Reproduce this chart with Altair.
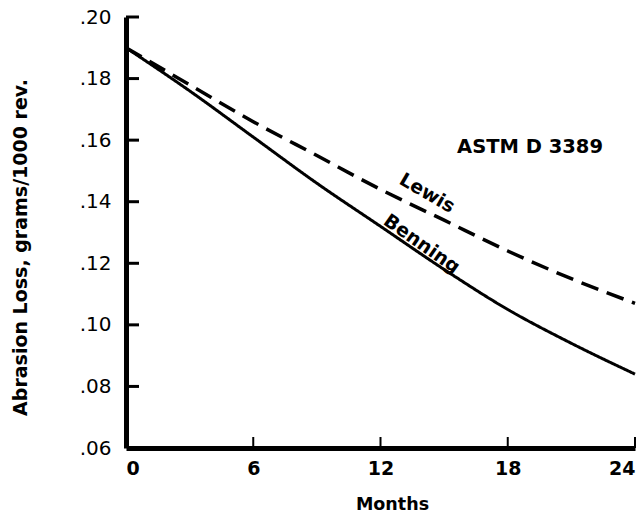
import altair as alt
import pandas as pd

months = [0, 3, 6, 9, 12, 15, 18, 21, 24]
benning = [0.190, 0.176, 0.161, 0.146, 0.132, 0.118, 0.105, 0.094, 0.084]
lewis = [0.190, 0.178, 0.166, 0.155, 0.144, 0.134, 0.124, 0.115, 0.107]

y_ticks = [0.08, 0.10, 0.12, 0.14, 0.16, 0.18, 0.20]
x_ticks = [6, 12, 18, 24]

labels = ["Lewis", "Benning", "ASTM D 3389"]
label_x = [14.2, 13.95, 19.05]
label_y = [0.1428, 0.1263, 0.1578]
label_angle = [30, 35, 0]
label_size = [19, 19, 19.5]

rows = []
for m, b, l in zip(months, benning, lewis):
    rows.append({"month": m, "value": b, "series": "Benning"})
    rows.append({"month": m, "value": l, "series": "Lewis"})
df = pd.DataFrame(rows)

xs = alt.Scale(domain=[0, 24], nice=False, zero=False)
ys = alt.Scale(domain=[0.06, 0.20], nice=False, zero=False)

FONT = "DejaVu Sans"
XT = "Months"
YT = "Abrasion Loss, grams/1000 rev."

lines = alt.Chart(df).mark_line(color="black", interpolate="monotone").encode(
    x=alt.X("month:Q", scale=xs, title=XT, axis=alt.Axis(
        values=[0, 6, 12, 18, 24], tickSize=0, labelPadding=11,
        labelFontSize=19, labelFont=FONT, labelFontWeight="bold", labelColor="black",
        titleFontSize=17.5, titleFont=FONT, titleFontWeight="bold", titleColor="black",
        titleX=266, titleY=56, titleBaseline="middle",
        domainWidth=5, domainColor="black", grid=False, labelFlush=True)),
    y=alt.Y("value:Q", scale=ys, title=YT, axis=alt.Axis(
        values=[0.06] + y_ticks, tickSize=0,
        labelPadding=15, labelExpr="substring(format(datum.value, '.2f'), 1)",
        labelFontSize=20, labelFont=FONT, labelColor="black",
        titleFontSize=19, titleFont=FONT, titleFontWeight="bold", titleColor="black",
        titleX=-106, titleY=230, titleAngle=-90, titleAlign="center", titleBaseline="middle",
        domainWidth=5, domainColor="black", grid=False, labelFlush=False)),
    strokeDash=alt.StrokeDash("series:N", scale=alt.Scale(domain=["Benning", "Lewis"], range=[[1, 0], [18, 9]]), legend=None),
    strokeWidth=alt.StrokeWidth("series:N", scale=alt.Scale(domain=["Benning", "Lewis"], range=[3, 3.5]), legend=None),
    detail="series:N",
)

ytick_df = pd.DataFrame({"v": y_ticks})
yt = alt.Chart(ytick_df).mark_rule(color="black", strokeWidth=3).encode(
    y=alt.Y("v:Q", scale=ys, title=YT), x=alt.value(0), x2=alt.value(13))

xtick_df = pd.DataFrame({"v": x_ticks})
xt = alt.Chart(xtick_df).mark_rule(color="black", strokeWidth=2).encode(
    x=alt.X("v:Q", scale=xs, title=XT), y=alt.value(431), y2=alt.value(420))

lab_df = pd.DataFrame({"t": labels, "x": label_x, "y": label_y, "a": label_angle, "s": label_size})
txt = alt.Chart(lab_df).mark_text(font=FONT, fontWeight="bold", color="black",
                                  align="center", baseline="middle").encode(
    x=alt.X("x:Q", scale=xs, title=XT), y=alt.Y("y:Q", scale=ys, title=YT),
    text="t:N", angle=alt.Angle("a:Q", scale=None), size=alt.Size("s:Q", scale=None, legend=None))

chart = alt.layer(lines, yt, xt, txt).properties(
    width=509, height=431,
    autosize=alt.AutoSizeParams(type="none"),
    padding={"left": 126, "top": 17, "right": 9, "bottom": 71},
    background="white",
).configure_view(stroke=None)

chart.save("out.html", embed_options={"renderer": "svg", "actions": False})
